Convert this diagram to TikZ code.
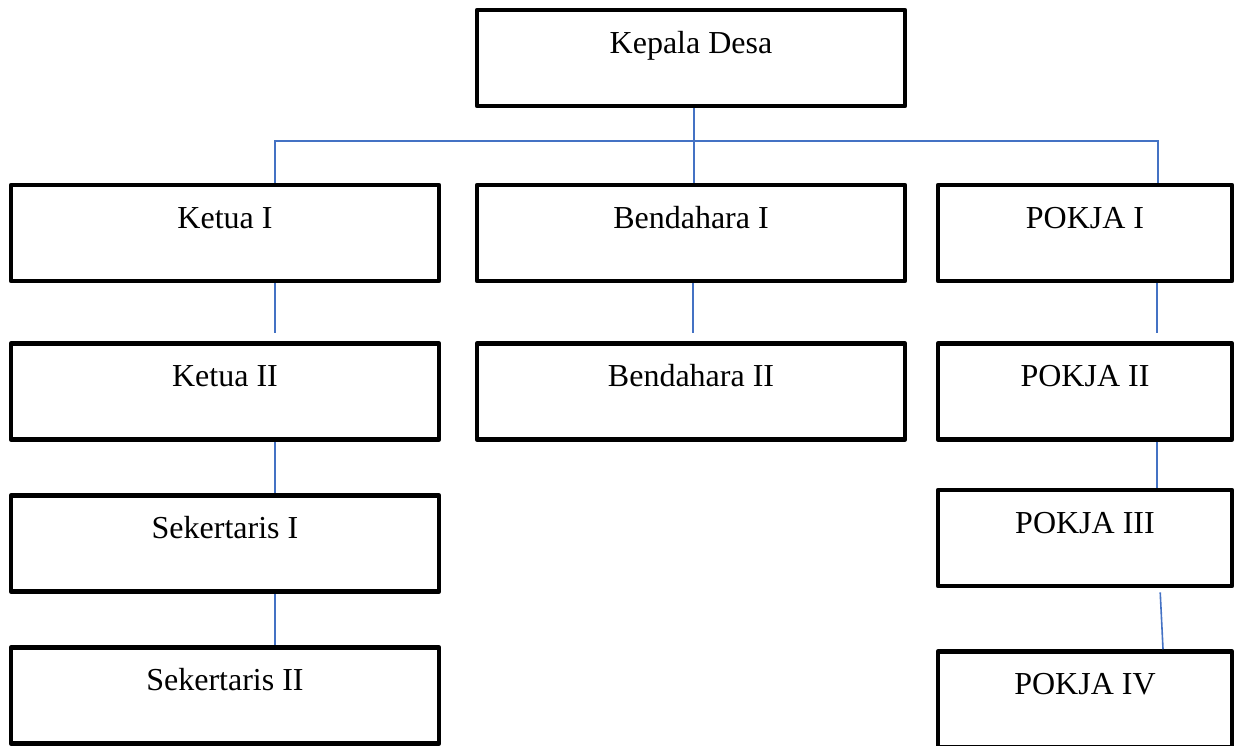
\documentclass[tikz,border=0pt]{standalone}
\usepackage{fontspec}
\setmainfont{Liberation Serif}
\usepackage{xcolor}
\usetikzlibrary{positioning}
\definecolor{linkblue}{RGB}{68,114,196}
\tikzstyle{box} = [rectangle, draw=black, line width=2.3pt, line join=round, minimum width=214pt, inner sep=0pt, text height=21.5pt, text depth=26.5pt, font=\fontsize{16pt}{19pt}\selectfont]
\tikzstyle{smallbox} = [box, minimum width=147pt]
\tikzstyle{link} = [draw=linkblue, line width=0.8pt]

\begin{document}
\begin{tikzpicture}[node distance=79pt and 200pt, on grid]
            \useasboundingbox (0,0) rectangle (617pt,-372.5pt);
            % Top
            \node[box] (kepala) at (345.5pt,-29pt) {Kepala Desa};
            % First row
            \node[box, below=87.5pt of kepala] (bend1) {Bendahara I};
            \node[box, left=233pt of bend1] (ketua1) {Ketua I};
            \node[smallbox, right=197pt of bend1] (pokja1) {POKJA I};
            % Second row
            \node[box, below=79.25pt of ketua1] (ketua2) {Ketua II};
            \node[box, below=79.25pt of bend1] (bend2) {Bendahara II};
            \node[smallbox, below=79.25pt of pokja1] (pokja2) {POKJA II};
            % Lower rows
            \node[box, below=76pt of ketua2] (sek1) {Sekertaris I};
            \node[box, below=76pt of sek1] (sek2) {Sekertaris II};
            \node[smallbox, below=73.25pt of pokja2] (pokja3) {POKJA III};
            \node[smallbox, below=80.75pt of pokja3] (pokja4) {POKJA IV};

            % Lines
            \draw[link] ([xshift=1.5pt]kepala.south) -- ([xshift=1.5pt]bend1.north);
            \draw[link] ([xshift=25pt]ketua1.north) -- ++(0,20.75pt) -| ([xshift=36.5pt]pokja1.north);
            \draw[link, shorten >=4pt] ([xshift=25pt]ketua1.south) -- ([xshift=25pt]ketua2.north);
            \draw[link] ([xshift=25pt]ketua2.south) -- ([xshift=25pt]sek1.north);
            \draw[link] ([xshift=25pt]sek1.south) -- ([xshift=25pt]sek2.north);
            \draw[link, shorten >=4pt] ([xshift=1pt]bend1.south) -- ([xshift=1pt]bend2.north);
            \draw[link, shorten >=4pt] ([xshift=36pt]pokja1.south) -- ([xshift=36pt]pokja2.north);
            \draw[link] ([xshift=36pt]pokja2.south) -- ([xshift=36pt]pokja3.north);
            \draw[link, shorten <=2pt] ([xshift=37.5pt]pokja3.south) -- ([xshift=39pt]pokja4.north);
        \end{tikzpicture}
\end{document}
